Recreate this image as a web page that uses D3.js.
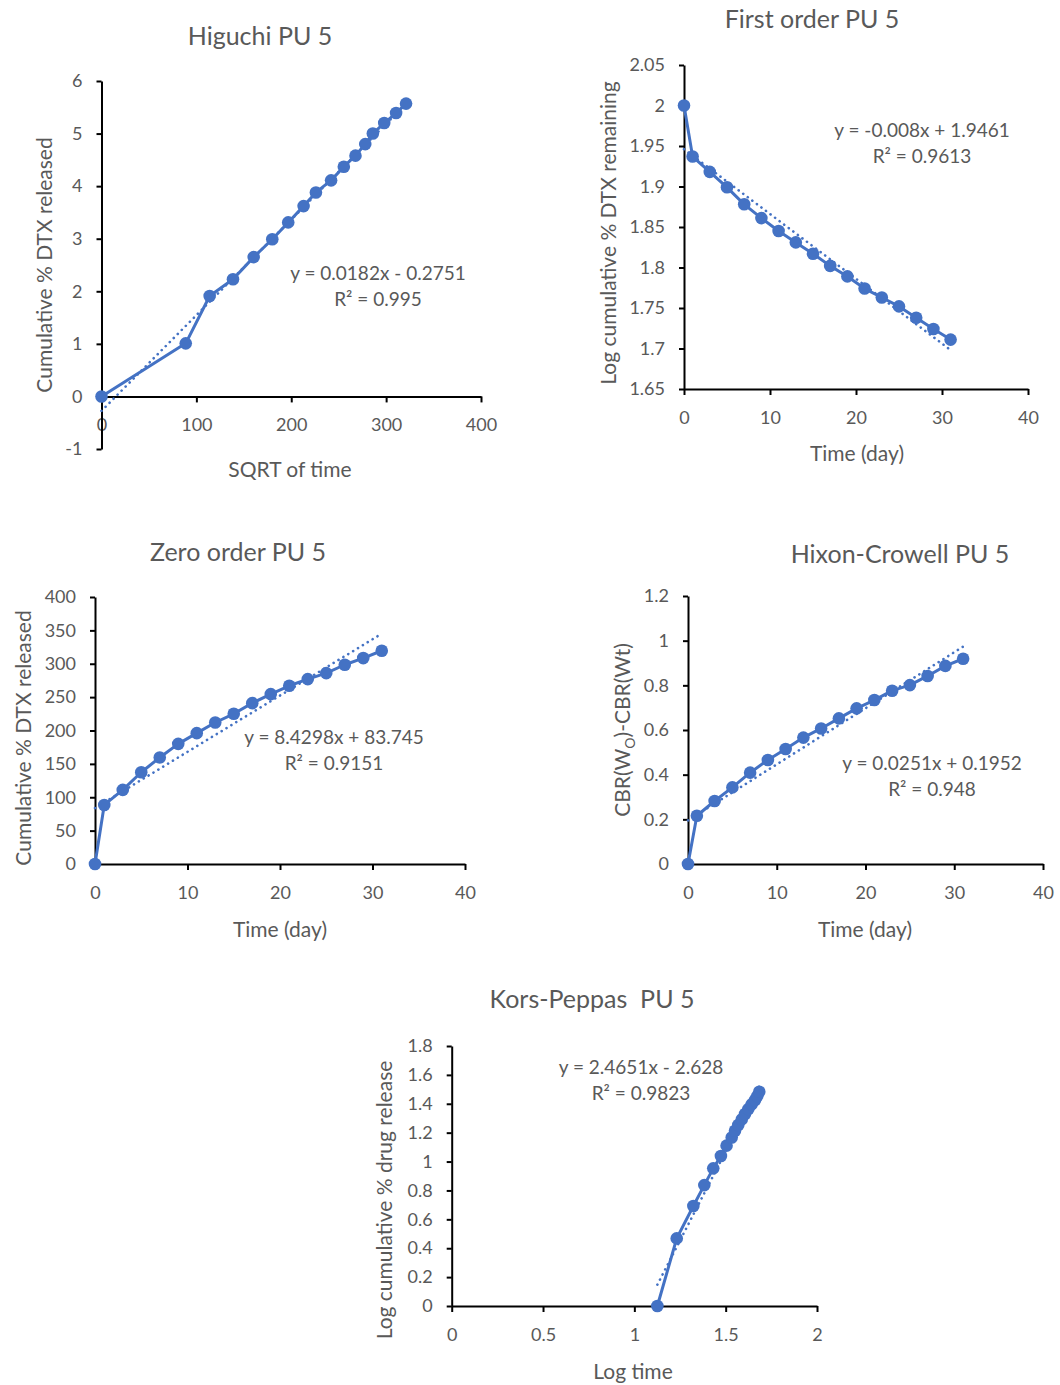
<!DOCTYPE html>
<html>
<head>
<meta charset="utf-8">
<script src="https://cdn.jsdelivr.net/npm/d3@7"></script>
<style>
  body { margin: 0; background: #fff; }
  svg { display: block; }
  text { font-family: Lato, "Open Sans", sans-serif; fill: #595959; white-space: pre; }
</style>
</head>
<body>
<svg id="chart" width="1060" height="1385"></svg>
<script>
// ---------- DATA ----------
const timeDays = [0, 1, 3, 5, 7, 9, 11, 13, 15, 17, 19, 21, 23, 25, 27, 29, 31];

const higuchiX = [0, 88.8, 114, 138.6, 160.4, 180, 196.8, 213, 226, 242, 255.4, 267.7, 278, 286, 298, 310.5, 321];
const higuchiY = [0, 1.01, 1.91, 2.23, 2.65, 2.99, 3.31, 3.62, 3.88, 4.11, 4.37, 4.58, 4.80, 5.00, 5.20, 5.39, 5.57];

const firstOrderY = [2.0, 1.937, 1.918, 1.899, 1.878, 1.861, 1.845, 1.831, 1.817, 1.802, 1.789, 1.774, 1.763, 1.752, 1.738, 1.724, 1.711];

const zeroOrderY = [0, 88.5, 111, 137.5, 159.5, 180, 196, 212, 225, 241, 254.5, 267, 277, 286, 298.5, 308.5, 319.5];

const hixonY = [0, 0.216, 0.282, 0.343, 0.409, 0.466, 0.515, 0.566, 0.607, 0.652, 0.697, 0.734, 0.776, 0.801, 0.842, 0.887, 0.919];

const korsX = [1.126, 1.232, 1.323, 1.383, 1.432, 1.474, 1.505, 1.533, 1.551, 1.569, 1.588, 1.606, 1.624, 1.642, 1.661, 1.673, 1.684];
const korsY = [0, 0.468, 0.692, 0.837, 0.953, 1.038, 1.110, 1.167, 1.213, 1.253, 1.292, 1.329, 1.363, 1.396, 1.426, 1.453, 1.483];

const titles = ["Higuchi PU 5", "First order PU 5", "Zero order PU 5", "Hixon-Crowell PU 5", "Kors-Peppas  PU 5"];
const xTitles = ["SQRT of time", "Time (day)", "Time (day)", "Time (day)", "Log time"];
const yTitles = ["Cumulative % DTX released", "Log cumulative % DTX remaining", "Cumulative % DTX released", null, "Log cumulative % drug release"];
const slopes = [0.0182, -0.008, 8.4298, 0.0251, 2.4651];
const intercepts = [-0.2751, 1.9461, 83.745, 0.1952, -2.628];
const eqTexts = ["y = 0.0182x - 0.2751", "y = -0.008x + 1.9461", "y = 8.4298x + 83.745", "y = 0.0251x + 0.1952", "y = 2.4651x - 2.628"];
const r2Texts = ["R² = 0.995", "R² = 0.9613", "R² = 0.9151", "R² = 0.948", "R² = 0.9823"];

const xTickValues = [
  [0, 100, 200, 300, 400],
  [0, 10, 20, 30, 40],
  [0, 10, 20, 30, 40],
  [0, 10, 20, 30, 40],
  [0, 0.5, 1, 1.5, 2]
];
const yTickValues = [
  [-1, 0, 1, 2, 3, 4, 5, 6],
  [1.65, 1.7, 1.75, 1.8, 1.85, 1.9, 1.95, 2, 2.05],
  [0, 50, 100, 150, 200, 250, 300, 350, 400],
  [0, 0.2, 0.4, 0.6, 0.8, 1, 1.2],
  [0, 0.2, 0.4, 0.6, 0.8, 1, 1.2, 1.4, 1.6, 1.8]
];

// ---------- LAYOUT ----------
const BLUE = "#4472C4";
const panels = [
  { xs: higuchiX, ys: higuchiY, xr: [101.5, 481], yr: [449, 81],
    title: [260, 35], xt: [290, 468], yt: [43, 265], eq: [378, 272] },
  { xs: timeDays, ys: firstOrderY, xr: [684, 1028], yr: [389, 65],
    title: [812, 18], xt: [857, 452], yt: [607, 233], eq: [922, 129] },
  { xs: timeDays, ys: zeroOrderY, xr: [95, 465], yr: [864, 597],
    title: [238, 551], xt: [280, 928], yt: [22, 738], eq: [334, 736] },
  { xs: timeDays, ys: hixonY, xr: [688, 1043], yr: [864, 596],
    title: [900, 553], xt: [865, 928], yt: [621, 730], eq: [932, 762] },
  { xs: korsX, ys: korsY, xr: [451.7, 817], yr: [1306, 1046],
    title: [592, 998], xt: [633, 1370], yt: [383, 1200], eq: [641, 1066] }
];

const svg = d3.select("#chart");
const fmt = d => String(+d.toFixed(2));

panels.forEach((p, i) => {
  const xt = xTickValues[i], yt = yTickValues[i];
  const x = d3.scaleLinear().domain([xt[0], xt[xt.length - 1]]).range(p.xr);
  const y = d3.scaleLinear().domain([yt[0], yt[yt.length - 1]]).range(p.yr);
  const g = svg.append("g");
  const x0 = y(Math.max(0, yt[0]));

  // x axis (crosses at y = 0 or bottom)
  const xa = g.append("g").attr("transform", `translate(0,${x0})`)
    .call(d3.axisBottom(x).tickValues(xt).tickSize(6).tickPadding(16).tickFormat(fmt).tickSizeOuter(0));
  // y axis
  const ya = g.append("g").attr("transform", `translate(${p.xr[0]},0)`)
    .call(d3.axisLeft(y).tickValues(yt).tickSize(5).tickPadding(14).tickFormat(fmt).tickSizeOuter(0));
  [xa, ya].forEach(a => {
    a.selectAll("path, line").attr("stroke", "#000").attr("stroke-width", 2);
    a.selectAll("text").style("font-size", "18px").attr("fill", "#595959");
  });

  // trendline (dotted)
  const ext = d3.extent(p.xs);
  g.append("line")
    .attr("x1", x(ext[0])).attr("y1", y(slopes[i] * ext[0] + intercepts[i]))
    .attr("x2", x(ext[1])).attr("y2", y(slopes[i] * ext[1] + intercepts[i]))
    .attr("stroke", BLUE).attr("stroke-width", 2.6)
    .attr("stroke-dasharray", "0.1 5.6").attr("stroke-linecap", "round");

  // series line
  const pts = p.xs.map((v, k) => [v, p.ys[k]]);
  g.append("path").datum(pts)
    .attr("d", d3.line().x(d => x(d[0])).y(d => y(d[1])))
    .attr("fill", "none").attr("stroke", BLUE).attr("stroke-width", 3)
    .attr("stroke-linejoin", "round");
  g.selectAll("circle.pt").data(pts).join("circle")
    .attr("cx", d => x(d[0])).attr("cy", d => y(d[1])).attr("r", 6.3)
    .attr("fill", BLUE);

  // title
  g.append("text").attr("x", p.title[0]).attr("y", p.title[1])
    .attr("text-anchor", "middle").attr("dominant-baseline", "central")
    .style("font-size", "25px").text(titles[i]);
  // x axis title
  g.append("text").attr("x", p.xt[0]).attr("y", p.xt[1])
    .attr("text-anchor", "middle").attr("dominant-baseline", "central")
    .style("font-size", "21px").text(xTitles[i]);
  // y axis title
  const yl = g.append("text").attr("transform", `translate(${p.yt[0]},${p.yt[1]}) rotate(-90)`)
    .attr("text-anchor", "middle").attr("dominant-baseline", "central")
    .style("font-size", "21px");
  if (yTitles[i]) {
    yl.text(yTitles[i]);
  } else {
    yl.append("tspan").text("CBR(W");
    yl.append("tspan").attr("baseline-shift", "sub").style("font-size", "14px").text("O");
    yl.append("tspan").text(")-CBR(Wt)");
  }
  // equation
  g.append("text").attr("x", p.eq[0]).attr("y", p.eq[1])
    .attr("text-anchor", "middle").attr("dominant-baseline", "central")
    .style("font-size", "19px").text(eqTexts[i]);
  g.append("text").attr("x", p.eq[0]).attr("y", p.eq[1] + 26.5)
    .attr("text-anchor", "middle").attr("dominant-baseline", "central")
    .style("font-size", "19px").text(r2Texts[i]);
});
</script>
</body>
</html>
